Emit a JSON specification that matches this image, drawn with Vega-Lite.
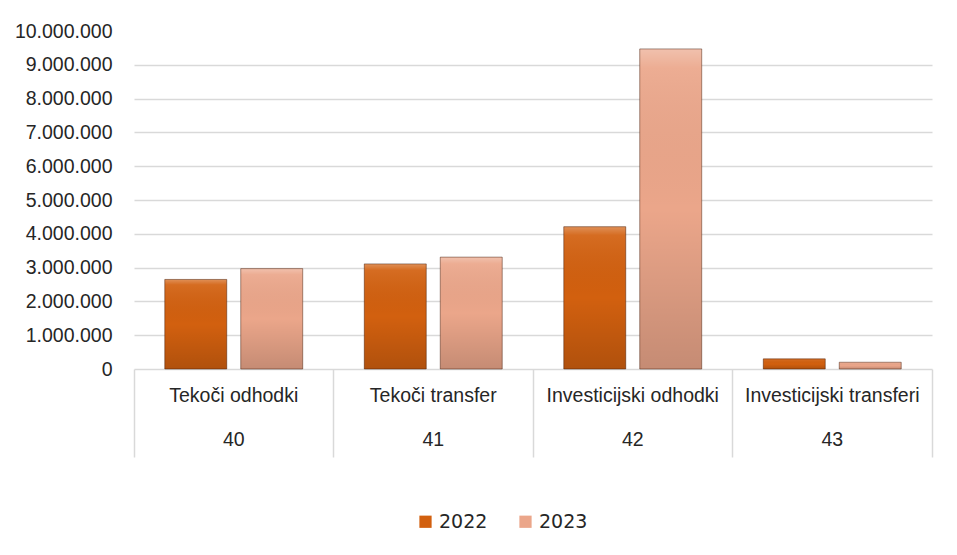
{
  "$schema": "https://vega.github.io/schema/vega-lite/v6.json",
  "width": 798,
  "height": 338,
  "autosize": "none",
  "padding": {"left": 134, "top": 31, "right": 25, "bottom": 186},
  "background": "white",
  "config": {
    "view": {"stroke": null},
    "locale": {"number": {"decimal": ",", "thousands": ".", "grouping": [3], "currency": ["", ""]}}
  },
  "data": {
    "values": [
      {"name": "Tekoči odhodki", "code": "40", "year": "2022", "value": 2650000},
      {"name": "Tekoči odhodki", "code": "40", "year": "2023", "value": 2970000},
      {"name": "Tekoči transfer", "code": "41", "year": "2022", "value": 3110000},
      {"name": "Tekoči transfer", "code": "41", "year": "2023", "value": 3310000},
      {"name": "Investicijski odhodki", "code": "42", "year": "2022", "value": 4210000},
      {"name": "Investicijski odhodki", "code": "42", "year": "2023", "value": 9470000},
      {"name": "Investicijski transferi", "code": "43", "year": "2022", "value": 300000},
      {"name": "Investicijski transferi", "code": "43", "year": "2023", "value": 200000}
    ]
  },
  "encoding": {
    "x": {
      "field": "name",
      "type": "nominal",
      "sort": ["Tekoči odhodki", "Tekoči transfer", "Investicijski odhodki", "Investicijski transferi"],
      "scale": {"paddingInner": 0, "paddingOuter": 0},
      "axis": {
        "title": null,
        "grid": false,
        "bandPosition": 1,
        "tickExtra": true,
        "tickSize": 88,
        "tickColor": "#d9d9d9",
        "tickWidth": 1.5,
        "domainColor": "#d9d9d9",
        "domainWidth": 1.5,
        "labelAngle": 0,
        "labelFont": "Liberation Sans",
        "labelFontSize": 19.5,
        "labelColor": "#262626",
        "labelPadding": -71,
        "labelBaseline": "top",
        "labelLineHeight": 44,
        "labelLimit": 0,
        "labelOverlap": false,
        "labelExpr": "datum.label ? [datum.label, datum.label == 'Tekoči odhodki' ? '40' : datum.label == 'Tekoči transfer' ? '41' : datum.label == 'Investicijski odhodki' ? '42' : '43'] : ''"
      }
    },
    "xOffset": {
      "field": "year",
      "type": "nominal",
      "scale": {"paddingInner": 0.184, "paddingOuter": 0.405}
    },
    "y": {
      "field": "value",
      "type": "quantitative",
      "scale": {"domain": [0, 10000000], "nice": false},
      "axis": {
        "title": null,
        "values": [0, 1000000, 2000000, 3000000, 4000000, 5000000, 6000000, 7000000, 8000000, 9000000, 10000000],
        "format": ",d",
        "domain": false,
        "ticks": false,
        "labelPadding": 22,
        "labelFont": "Liberation Sans",
        "labelFontSize": 19.5,
        "labelColor": "#262626",
        "gridColor": "#d9d9d9",
        "gridWidth": 1.5,
        "gridOpacity": {"condition": {"test": "datum.value >= 10000000 || datum.value == 0", "value": 0}, "value": 1}
      }
    }
  },
  "layer": [
    {
      "mark": {"type": "bar"},
      "encoding": {
        "color": {
          "field": "year",
          "type": "nominal",
          "scale": {"domain": ["2022", "2023"], "range": ["#d2600f", "#eba68a"]},
          "legend": {
            "title": null,
            "orient": "none",
            "direction": "horizontal",
            "legendX": 282,
            "legendY": 481,
            "symbolType": "square",
            "symbolSize": 150,
            "symbolStrokeWidth": 0,
            "labelFont": "DejaVu Sans",
            "labelFontSize": 19,
            "labelColor": "#262626",
            "columnPadding": 28,
            "labelOffset": 4
          }
        }
      }
    },
    {
      "mark": {
        "type": "bar",
        "stroke": "rgba(60,20,0,0.45)",
        "strokeWidth": 1,
        "fill": {
          "x1": 0, "y1": 0, "x2": 0, "y2": 1,
          "gradient": "linear",
          "stops": [
            {"offset": 0, "color": "rgba(255,255,255,0.30)"},
            {"offset": 0.06, "color": "rgba(255,255,255,0.08)"},
            {"offset": 0.5, "color": "rgba(0,0,0,0.0)"},
            {"offset": 1, "color": "rgba(0,0,0,0.16)"}
          ]
        }
      }
    }
  ]
}
